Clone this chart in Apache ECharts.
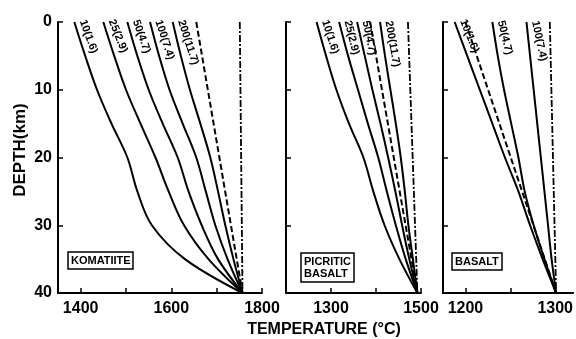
<!DOCTYPE html>
<html><head><meta charset="utf-8">
<script src="https://cdn.jsdelivr.net/npm/echarts@6/dist/echarts.min.js"></script>
<style>html,body{margin:0;padding:0;background:#fff}#c{width:576px;height:339px}</style>
</head><body><div id="c"></div>
<script>
// Depth (km) at which temperatures are read
const depths = [0, 5, 10, 15, 20, 25, 30, 35, 40];

// KOMATIITE panel temperatures (°C)
const komLabels = ['10(1.6)', '25(2.9)', '50(4.7)', '100(7.4)', '200(11.7)'];
const kom10  = [1386, 1410, 1436, 1468, 1503, 1525, 1557, 1630, 1757];
const kom25  = [1450, 1474, 1500, 1532, 1565, 1594, 1628, 1682, 1757];
const kom50  = [1503, 1525, 1550, 1581, 1614, 1638, 1667, 1703, 1757];
const kom100 = [1553, 1573, 1596, 1625, 1655, 1676, 1697, 1724, 1757];
const kom200 = [1603, 1621, 1641, 1664, 1686, 1703, 1719, 1737, 1757];
const komDashed  = [1655, 1757];
const komDashDot = [1751, 1757];

// PICRITIC BASALT panel
const picLabels = ['10(1.6)', '25(2.9)', '50(4.7)', '200(11.7)'];
const pic10  = [1268, 1289, 1312, 1340, 1372, 1394, 1419, 1452, 1492];
const pic25  = [1318, 1338, 1360, 1382, 1405, 1424, 1444, 1466, 1492];
const pic50  = [1358, 1375, 1392, 1410, 1427, 1443, 1458, 1474, 1492];
const pic200 = [1409, 1420, 1432, 1444, 1455, 1464, 1472, 1482, 1492];
const picDashed  = [1387, 1492];
const picDashDot = [1471, 1492];

// BASALT panel
const basLabels = ['10(1.6)', '50(4.7)', '100(7.4)'];
const bas10  = [1188, 1202, 1216, 1230, 1244, 1259, 1272, 1286, 1301];
const bas50  = [1230, 1236, 1243, 1251, 1259, 1266, 1276, 1288, 1301];
const bas100 = [1268, 1272, 1276, 1280, 1284, 1288, 1292, 1296, 1301];
const basDashed  = [1200, 1301];
const basDashDot = [1294, 1301];
const straightDepths = [0, 40];

// Axis ticks / labels
const komTicks = [1400, 1500, 1600, 1700, 1800];
const komTickLabels = [1400, 1600, 1800];
const picTicks = [1300, 1400, 1500];
const picTickLabels = [1300, 1500];
const basTicks = [1200, 1250, 1300];
const basTickLabels = [1200, 1300];
const depthTicks = [0, 10, 20, 30, 40];

const FONT = 'Liberation Sans';

function curve(label, temps, gi, rot) {
  return {
    type: 'line', xAxisIndex: gi, yAxisIndex: gi,
    data: temps.map((t, i) => i === 0 ? { value: [t, depths[i]], label: { show: true } } : [t, depths[i]]),
    smooth: 0.35, showSymbol: true, symbolSize: 0, symbol: 'circle',
    lineStyle: { color: '#000', width: 2 },
    itemStyle: { color: '#000' },
    label: { show: false, formatter: label, position: 'right', distance: 3, rotate: rot,
      fontSize: 11, fontWeight: 'bold', color: '#000', fontFamily: FONT, align: 'left', verticalAlign: 'bottom' },
    silent: true, animation: false
  };
}
function straight(temps, gi, type, width) {
  return {
    type: 'line', xAxisIndex: gi, yAxisIndex: gi,
    data: temps.map((t, i) => [t, straightDepths[i]]),
    showSymbol: false, lineStyle: { color: '#000', width: width, type: type },
    silent: true, animation: false
  };
}

const grids = [
  { left: 58, top: 22, width: 204, height: 271 },
  { left: 286, top: 22, width: 135, height: 271 },
  { left: 443, top: 22, width: 131, height: 271 }
];
const xr = [[1350, 1800, komTicks, komTickLabels], [1200, 1500, picTicks, picTickLabels], [1175, 1320, basTicks, basTickLabels]];

const xAxes = xr.map((r, i) => ({
  type: 'value', gridIndex: i, min: r[0], max: r[1], position: 'bottom',
  axisLine: { show: true, onZero: false, lineStyle: { color: '#000', width: 2 } },
  axisTick: { show: true, inside: true, length: 5, customValues: r[2], lineStyle: { color: '#000', width: 1.5 } },
  axisLabel: { show: true, customValues: r[3], formatter: v => String(v), margin: 8, fontSize: 16, fontWeight: 'bold', color: '#000', fontFamily: FONT },
  splitLine: { show: false }
}));
const yAxes = [0, 1, 2].map(i => ({
  type: 'value', gridIndex: i, min: 0, max: 40, inverse: true,
  axisLine: { show: true, onZero: false, lineStyle: { color: '#000', width: 2 } },
  axisTick: { show: true, inside: true, length: 5, customValues: depthTicks, lineStyle: { color: '#000', width: 1.5 } },
  axisLabel: { show: i === 0, customValues: depthTicks, formatter: v => String(v), margin: 6, fontSize: 16, fontWeight: 'bold', color: '#000', fontFamily: FONT },
  splitLine: { show: false }
}));

const series = [
  curve(komLabels[0], kom10, 0, -70), curve(komLabels[1], kom25, 0, -68), curve(komLabels[2], kom50, 0, -70),
  curve(komLabels[3], kom100, 0, -72), curve(komLabels[4], kom200, 0, -72),
  straight(komDashed, 0, [6, 3], 2), straight(komDashDot, 0, [7, 2, 2, 2], 1.8),
  curve(picLabels[0], pic10, 1, -72), curve(picLabels[1], pic25, 1, -76), curve(picLabels[2], pic50, 1, -78),
  curve(picLabels[3], pic200, 1, -80),
  straight(picDashed, 1, [6, 3], 2), straight(picDashDot, 1, [7, 2, 2, 2], 1.8),
  curve(basLabels[0], bas10, 2, -68), curve(basLabels[1], bas50, 2, -76), curve(basLabels[2], bas100, 2, -78),
  straight(basDashed, 2, [6, 3], 2), straight(basDashDot, 2, [7, 2, 2, 2], 1.8)
];

const boxStyle = { borderColor: '#000', borderWidth: 1.5, padding: [3, 3, 2, 3],
  textStyle: { fontSize: 11, fontWeight: 'bold', color: '#000', fontFamily: FONT, lineHeight: 12 } };

const chart = echarts.init(document.getElementById('c'), null, { renderer: 'canvas' });
chart.setOption({
  backgroundColor: '#fff',
  animation: false,
  grid: grids,
  xAxis: xAxes,
  yAxis: yAxes,
  series: series,
  title: [
    Object.assign({ text: 'KOMATIITE', left: 68, top: 252 }, boxStyle),
    Object.assign({ text: 'PICRITIC\nBASALT', left: 301, top: 253 }, boxStyle),
    Object.assign({ text: 'BASALT', left: 452, top: 253 }, boxStyle)
  ],
  graphic: [
    { type: 'text', x: 20, y: 150, rotation: Math.PI / 2,
      style: { text: 'DEPTH(km)', font: 'bold 17px "Liberation Sans"', fill: '#000', textAlign: 'center', textVerticalAlign: 'middle' } },
    { type: 'text', x: 324, y: 330,
      style: { text: 'TEMPERATURE (°C)', font: 'bold 16px "Liberation Sans"', fill: '#000', textAlign: 'center', textVerticalAlign: 'middle' } }
  ]
});
</script></body></html>
